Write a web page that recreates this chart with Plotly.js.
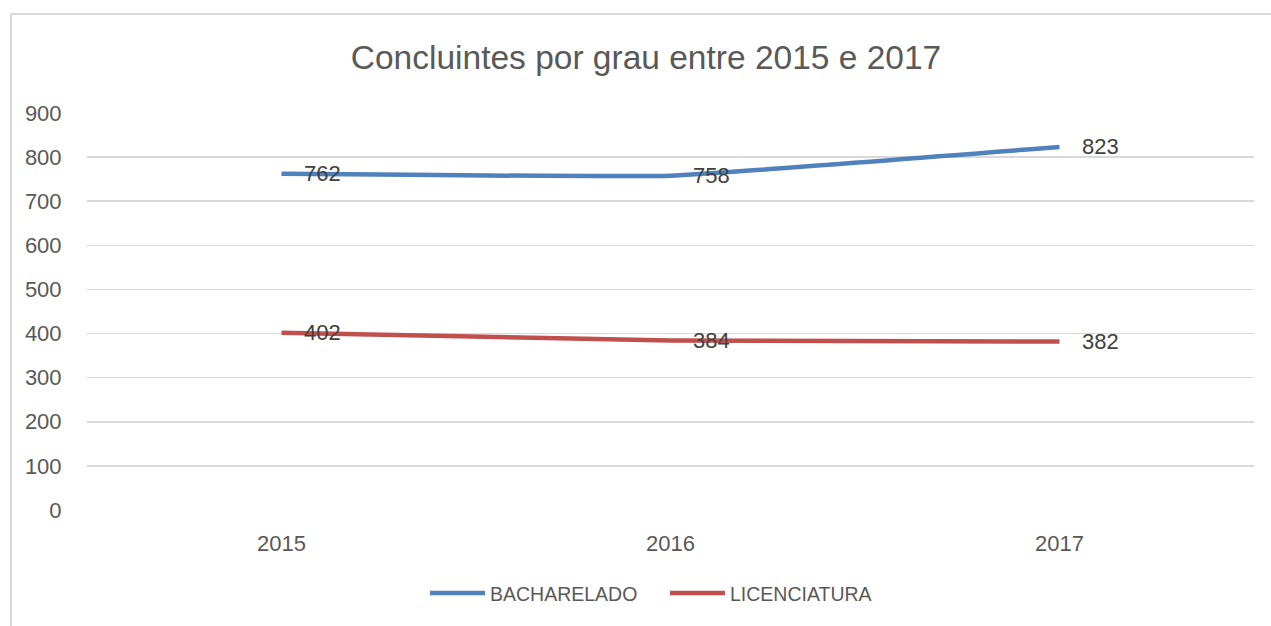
<!DOCTYPE html>
<html>
<head>
<meta charset="utf-8">
<script src="https://cdn.plot.ly/plotly-3.0.1.min.js"></script>
<style>html,body{margin:0;padding:0;background:#fff;overflow:hidden;}#chart{width:1271px;height:626px;}</style>
</head>
<body>
<div id="chart"></div>
<script>
const years = ['2015', '2016', '2017'];
const bacharelado = [762, 758, 823];
const licenciatura = [402, 384, 382];
const seriesNames = ['BACHARELADO', 'LICENCIATURA'];
const seriesColors = ['#4f81bd', '#c0504d'];
const yTicks = [0, 100, 200, 300, 400, 500, 600, 700, 800, 900];

const FONT = 'Liberation Sans, Arial, sans-serif';
const series = [bacharelado, licenciatura];

const traces = series.map((vals, i) => ({
  type: 'scatter',
  mode: 'lines',
  x: years,
  y: vals,
  name: seriesNames[i],
  line: {color: seriesColors[i], width: 4.5, shape: 'spline', smoothing: 0.3},
  hoverinfo: 'skip'
}));

const annotations = [];
series.forEach((vals) => {
  vals.forEach((v, j) => {
    annotations.push({
      x: j, y: v, xref: 'x', yref: 'y',
      text: String(v), showarrow: false,
      xanchor: 'left', yanchor: 'middle', xshift: 20, yshift: 0,
      font: {family: FONT, size: 22, color: '#404040'}
    });
  });
});

const PW = 1254 - 87, PH = 510 - 113;
const layout = {
  width: 1271, height: 626,
  paper_bgcolor: '#ffffff', plot_bgcolor: '#ffffff',
  margin: {l: 87, r: 17, t: 113, b: 116},
  font: {family: FONT, color: '#595959'},
  title: {
    text: 'Concluintes por grau entre 2015 e 2017',
    font: {family: FONT, size: 33.5, color: '#595959'},
    x: 646 / 1271, xanchor: 'center', y: 1 - 57/626, yanchor: 'middle'
  },
  xaxis: {
    type: 'category', range: [-0.5, 2.5],
    showgrid: false, zeroline: false, showline: false,
    ticks: 'outside', ticklen: 14, tickcolor: 'rgba(0,0,0,0)',
    tickfont: {family: FONT, size: 22, color: '#595959'},
    fixedrange: true
  },
  yaxis: {
    range: [0, 900], tickvals: yTicks,
    showgrid: true, gridcolor: '#d9d9d9', gridwidth: 1.5,
    zeroline: false, showline: false,
    ticks: 'outside', ticklen: 20, tickcolor: 'rgba(0,0,0,0)',
    tickfont: {family: FONT, size: 22, color: '#595959'},
    fixedrange: true
  },
  showlegend: true,
  legend: {
    orientation: 'h', x: (425 - 87) / PW, xanchor: 'left', y: -0.21, yanchor: 'middle',
    font: {family: FONT, size: 19.5, color: '#595959'},
    itemwidth: 55, entrywidth: 170, entrywidthmode: 'pixels', tracegroupgap: 0
  },
  annotations: annotations,
  shapes: [
    {type: 'line', xref: 'paper', yref: 'paper',
     x0: (11 - 87) / PW, x1: (1271 - 87) / PW, y0: (510 - 14) / PH, y1: (510 - 14) / PH,
     line: {color: '#d9d9d9', width: 2}, layer: 'below'},
    {type: 'line', xref: 'paper', yref: 'paper',
     x0: (11 - 87) / PW, x1: (11 - 87) / PW, y0: (510 - 626) / PH, y1: (510 - 14) / PH,
     line: {color: '#d9d9d9', width: 2}, layer: 'below'}
  ]
};

Plotly.newPlot('chart', traces, layout, {staticPlot: true, displayModeBar: false});
</script>
</body>
</html>
